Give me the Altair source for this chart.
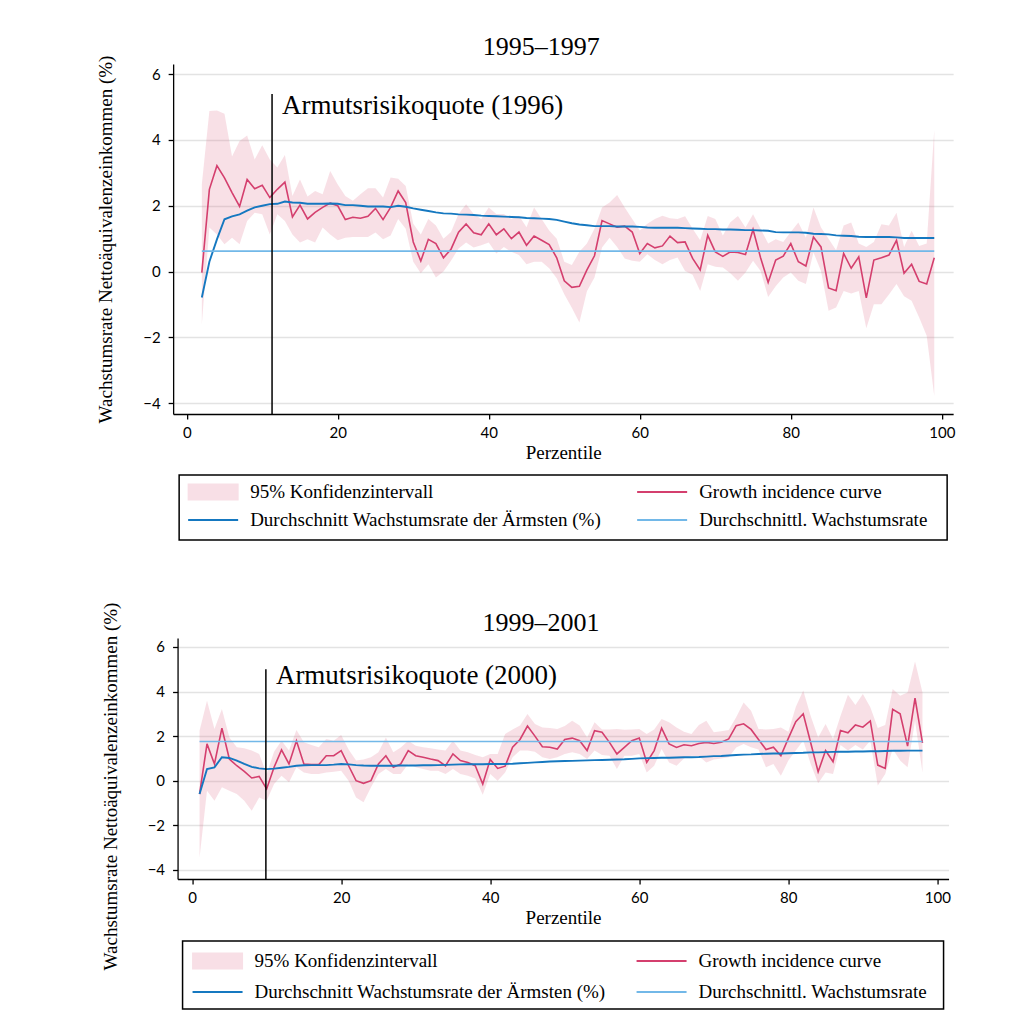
import altair as alt
import pandas as pd

# ---------------- data ----------------
pct_1 = list(range(2, 100))
gic_1 = [-0.03, 2.5, 3.22, 2.85, 2.4, 1.98, 2.8, 2.52, 2.62, 2.25,
         2.5, 2.72, 1.66, 2.02, 1.6, 1.8, 1.95, 2.08, 2.0, 1.58,
         1.65, 1.62, 1.68, 1.92, 1.58, 1.95, 2.45, 2.1, 0.9, 0.32,
         0.98, 0.85, 0.42, 0.68, 1.2, 1.45, 1.18, 1.12, 1.45, 1.12,
         1.3, 1.0, 1.2, 0.8, 1.08, 0.95, 0.82, 0.42, -0.28, -0.48,
         -0.45, 0.05, 0.48, 1.55, 1.45, 1.35, 1.38, 1.2, 0.55, 0.85,
         0.72, 0.78, 1.08, 0.88, 0.9, 0.4, 0.05, 1.1, 0.6, 0.46,
         0.6, 0.58, 0.52, 1.28, 0.42, -0.33, 0.35, 0.47, 0.85, 0.3,
         0.17, 1.05, 0.75, -0.5, -0.58, 0.55, 0.1, 0.45, -0.8, 0.35,
         0.42, 0.5, 0.95, -0.05, 0.22, -0.3, -0.38, 0.42]
hi_1 = [2.65, 4.88, 4.9, 4.8, 3.5, 3.97, 4.14, 3.41, 3.84, 3.41,
        3.16, 3.54, 2.3, 2.8, 2.28, 2.45, 2.35, 3.06, 2.65, 2.3,
        2.15, 2.35, 2.53, 2.53, 2.25, 2.86, 2.82, 2.6, 1.45, 1.13,
        1.6, 1.4, 1.0, 1.2, 1.75, 2.05, 1.75, 1.6, 1.95, 1.75,
        1.75, 1.6, 1.7, 1.35, 1.95, 1.6, 1.25, 1.0, 0.3, 0.2,
        0.6, 0.85, 1.3, 1.95, 2.1, 2.33, 1.95, 1.6, 1.25, 1.45,
        1.6, 1.7, 1.62, 1.6, 1.68, 1.3, 0.95, 1.69, 1.6, 1.1,
        1.5, 1.69, 1.34, 1.74, 1.3, 0.85, 0.98, 0.9, 1.2, 1.49,
        1.03, 1.95, 1.34, 1.0, 0.65, 1.4, 1.49, 0.85, 0.75, 0.9,
        1.44, 1.4, 1.79, 0.75, 1.24, 0.78, 0.85, 4.3]
lo_1 = [-1.6, 1.34, 1.13, 0.83, 1.03, 0.83, 1.54, 1.79, 1.74, 1.13,
        1.74, 1.54, 1.13, 0.88, 0.98, 0.88, 1.34, 1.13, 0.95, 1.03,
        1.05, 1.05, 1.05, 1.19, 0.98, 1.1, 1.6, 1.3, 0.3, -0.05,
        0.22, -0.18, 0.0, 0.33, 0.7, 0.88, 0.73, 0.8, 0.88, 0.55,
        0.75, 0.6, 0.5, 0.22, 0.3, 0.3, 0.1, -0.2, -0.69, -1.1,
        -1.55, -0.6, -0.18, 0.73, 1.03, 0.75, 0.4, 0.33, 0.3, 0.53,
        0.35, 0.22, 0.35, 0.43, 0.02, -0.1, -0.59, 0.22, 0.15, 0.12,
        -0.05, -0.28, -0.03, 0.33, 0.02, -0.77, -0.45, -0.18, -0.03, -0.28,
        -0.38, 0.58, 0.02, -1.19, -1.09, -0.59, -0.67, -0.59, -1.72, -0.99,
        -0.99, -0.7, -0.38, -0.75, -0.89, -1.4, -1.95, -3.78]
avg_1 = [-0.79, 0.3, 0.98, 1.59, 1.68, 1.74, 1.85, 1.95, 2.0, 2.05,
         2.06, 2.13, 2.1, 2.09, 2.06, 2.06, 2.06, 2.07, 2.06, 2.02,
         2.02, 2.0, 1.98, 1.98, 1.98, 1.96, 2.0, 1.97, 1.92, 1.88,
         1.84, 1.8, 1.77, 1.76, 1.74, 1.73, 1.72, 1.7, 1.69, 1.68,
         1.67, 1.66, 1.65, 1.63, 1.62, 1.61, 1.6, 1.57, 1.52, 1.47,
         1.43, 1.41, 1.38, 1.38, 1.38, 1.37, 1.37, 1.37, 1.36, 1.34,
         1.33, 1.33, 1.33, 1.33, 1.32, 1.31, 1.3, 1.29, 1.29, 1.28,
         1.28, 1.27, 1.26, 1.26, 1.25, 1.24, 1.2, 1.19, 1.19, 1.19,
         1.18, 1.15, 1.14, 1.13, 1.1, 1.09, 1.08, 1.06, 1.05, 1.05,
         1.05, 1.05, 1.04, 1.02, 1.02, 1.02, 1.02, 1.02]
mean_1 = 0.62
poverty_pct_1 = 11.3
poverty_top_1 = 5.4

pct_2 = list(range(1, 99))
gic_2 = [-0.6, 1.65, 0.75, 2.36, 0.97, 0.67, 0.42, 0.12, 0.19, -0.37,
         0.6, 1.38, 0.75, 1.79, 0.75, 0.72, 0.72, 1.12, 1.12, 1.35,
         0.67, 0.0, -0.12, 0.0, 0.75, 1.12, 0.6, 0.75, 1.35, 1.12,
         1.05, 0.97, 0.9, 0.67, 1.2, 0.9, 0.82, 0.67, -0.15, 0.95,
         0.55, 0.65, 1.5, 1.85, 2.45, 2.0, 1.52, 1.5, 1.42, 1.85,
         1.91, 1.79, 1.35, 2.24, 2.17, 1.72, 1.2, 1.49, 1.79, 1.91,
         0.82, 1.35, 2.36, 1.65, 1.49, 1.61, 1.57, 1.67, 1.72, 1.67,
         1.72, 1.87, 2.47, 2.55, 2.3, 1.85, 1.4, 1.5, 1.12, 1.9,
         2.65, 3.0, 1.7, 0.4, 1.35, 0.85, 2.25, 2.15, 2.5, 2.4,
         2.68, 0.7, 0.55, 3.2, 3.0, 1.55, 3.7, 1.7]
hi_2 = [2.24, 3.59, 2.32, 3.21, 1.94, 1.5, 1.45, 1.35, 1.2, 0.3,
        1.3, 1.79, 1.35, 2.27, 1.72, 1.6, 1.5, 1.87, 1.79, 2.05,
        1.4, 0.9, 0.95, 1.05, 1.27, 1.94, 1.27, 1.49, 1.79, 1.57,
        1.5, 1.45, 1.4, 1.35, 1.79, 1.35, 1.27, 1.15, 1.05, 1.2,
        1.2, 2.09, 2.3, 2.47, 2.99, 2.54, 2.39, 2.36, 2.32, 2.45,
        2.69, 2.47, 1.94, 2.62, 2.3, 2.3, 2.32, 2.28, 2.3, 2.32,
        2.09, 2.3, 2.77, 2.62, 2.39, 2.2, 2.09, 2.5, 2.69, 2.17,
        2.22, 2.27, 2.84, 3.51, 3.14, 2.32, 2.3, 2.32, 2.39, 2.2,
        3.3, 4.04, 2.9, 1.94, 2.54, 1.87, 2.9, 3.86, 3.4, 3.89,
        3.29, 2.36, 2.5, 4.11, 3.81, 3.96, 5.35, 3.96]
lo_2 = [-3.44, -0.45, -0.9, -0.3, -0.45, -0.6, -0.9, -1.35, -0.75, -0.9,
        -0.15, 0.22, -0.07, 0.6, 0.37, 0.3, 0.3, 0.37, 0.4, 0.45,
        0.0, -0.75, -0.97, -0.3, 0.3, 0.52, 0.3, 0.3, 0.75, 0.6,
        0.52, 0.45, 0.45, 0.3, 0.52, 0.3, 0.22, 0.1, -0.63, 0.3,
        0.0, 0.37, 1.05, 1.35, 1.35, 1.3, 1.05, 0.97, 1.05, 1.2,
        1.27, 1.2, 0.97, 1.35, 1.15, 1.12, 0.52, 1.12, 1.12, 1.2,
        0.37, 0.67, 1.42, 0.82, 0.67, 1.0, 1.12, 1.1, 0.82, 0.95,
        1.0, 1.05, 1.49, 1.65, 1.5, 1.4, 0.6, 0.75, 0.22, 0.9,
        1.35, 1.8, 0.75, -0.12, 0.37, 0.3, 1.6, 1.35, 1.6, 1.4,
        1.8, -0.22, 0.3, 1.42, 0.9, 0.6, 2.69, 0.37]
avg_2 = [-0.6, 0.52, 0.6, 1.05, 1.02, 0.9, 0.75, 0.62, 0.55, 0.52,
         0.54, 0.58, 0.62, 0.67, 0.69, 0.7, 0.7, 0.7, 0.72, 0.75,
         0.73, 0.7, 0.68, 0.67, 0.67, 0.67, 0.67, 0.68, 0.68, 0.68,
         0.69, 0.69, 0.7, 0.71, 0.72, 0.73, 0.74, 0.74, 0.74, 0.75,
         0.75, 0.75, 0.76, 0.78, 0.8, 0.82, 0.84, 0.86, 0.87, 0.88,
         0.89, 0.9, 0.91, 0.92, 0.93, 0.94, 0.95, 0.96, 0.98, 1.0,
         1.01, 1.02, 1.03, 1.03, 1.04, 1.05, 1.05, 1.06, 1.08, 1.1,
         1.11, 1.13, 1.15, 1.17, 1.18, 1.2, 1.21, 1.22, 1.22, 1.23,
         1.24, 1.25, 1.27, 1.27, 1.28, 1.29, 1.3, 1.3, 1.31, 1.31,
         1.32, 1.32, 1.33, 1.34, 1.34, 1.35, 1.35, 1.35]
mean_2 = 1.76
poverty_pct_2 = 9.9
poverty_top_2 = 5.0

titles = ["1995–1997", "1999–2001"]
annotations = ["Armutsrisikoquote (1996)", "Armutsrisikoquote (2000)"]
y_title = "Wachstumsrate Nettoäquivalenzeinkommen (%)"
x_title = "Perzentile"
x_ticks = [0, 20, 40, 60, 80, 100]
y_ticks = [-4, -2, 0, 2, 4, 6]
legend_labels = ["95% Konfidenzintervall", "Growth incidence curve",
                 "Durchschnitt Wachstumsrate der Ärmsten (%)", "Durchschnittl. Wachstumsrate"]
legend_cols = [0, 1, 0, 1]
legend_rows = [0, 0, 1, 1]

# ---------------- style ----------------
BAND = "#e1738f"
BAND_OP = 0.22
SWATCH = "#f8dfe6"
RED = "#d43f6e"
BLUE = "#1578c0"
LBLUE = "#72b8e8"
SERIF = "Liberation Serif"
SANS = "Lato"


def make_panel(pct, gic, lo, hi, avg, mean, pov, pov_top, title, ann, xdom, ydom, w, h,
               title_offset, ann_dy, ytitle_y=None):
    df = pd.DataFrame({"p": pct, "gic": gic, "lo": lo, "hi": hi, "avg": avg})
    xs = alt.Scale(domain=xdom, nice=False, zero=False)
    ys = alt.Scale(domain=ydom, nice=False, zero=False)
    xax = alt.Axis(values=x_ticks, title=x_title, grid=False, format="d",
                   labelPadding=6, titlePadding=3)
    yargs = dict(values=y_ticks, title=y_title, grid=True, format="d",
                 labelPadding=8, titlePadding=27)
    if ytitle_y is not None:
        yargs["titleY"] = ytitle_y
    yax = alt.Axis(**yargs)
    X = lambda f: alt.X(f, type="quantitative", scale=xs, axis=xax)
    Y = lambda f: alt.Y(f, type="quantitative", scale=ys, axis=yax)

    base = alt.Chart(df)
    band = base.mark_area(color=BAND, opacity=BAND_OP).encode(x=X("p"), y=Y("lo"), y2="hi")
    red = base.mark_line(color=RED, strokeWidth=1.6).encode(x=X("p"), y=Y("gic"))
    blue = base.mark_line(color=BLUE, strokeWidth=1.9).encode(x=X("p"), y=Y("avg"))

    mean_df = pd.DataFrame({"p0": [pct[0]], "p1": [pct[-1]], "m": [mean]})
    meanline = alt.Chart(mean_df).mark_rule(color=LBLUE, strokeWidth=1.6).encode(
        x=X("p0"), x2="p1", y=Y("m"))

    pov_df = pd.DataFrame({"p": [pov], "top": [pov_top], "bot": [ydom[0]], "label": [ann]})
    povline = alt.Chart(pov_df).mark_rule(color="black", strokeWidth=1.5).encode(
        x=X("p"), y=Y("top"), y2="bot")
    povtext = alt.Chart(pov_df).mark_text(align="left", baseline="top", dx=10, dy=ann_dy,
                                         font=SERIF, fontSize=27, color="black").encode(
        x=X("p"), y=Y("top"), text="label:N")

    return alt.layer(band, red, blue, meanline, povline, povtext).properties(
        width=w, height=h,
        title=alt.TitleParams(title, font=SERIF, fontSize=26, fontWeight="normal",
                              anchor="middle", dx=-22, offset=title_offset,
                              frame="group", color="black"))


def make_legend(w, h, sym_x, row_y):
    ldf = pd.DataFrame({"label": legend_labels, "col": legend_cols, "row": legend_rows})
    xs = alt.Scale(domain=[0, 1], range=list(sym_x))
    ys = alt.Scale(domain=[0, 1], range=list(row_y))
    enc = dict(x=alt.X("col:Q", scale=xs, axis=None), y=alt.Y("row:Q", scale=ys, axis=None))
    base = alt.Chart(ldf)
    swatch = base.transform_filter(alt.datum.label == legend_labels[0]).mark_point(
        shape="M-1,-0.33H1V0.33H-1Z", filled=True, size=2601, color=SWATCH, opacity=1,
        strokeWidth=0).encode(**enc)
    lines = base.transform_filter(alt.datum.label != legend_labels[0]).mark_point(
        shape="stroke", filled=False, size=2500, strokeWidth=2, opacity=1).encode(
        color=alt.Color("label:N", scale=alt.Scale(domain=legend_labels[1:], range=[RED, BLUE, LBLUE]),
                        legend=None), **enc)
    texts = base.mark_text(align="left", baseline="middle", dx=37, font=SERIF, fontSize=19,
                           color="black").encode(text="label:N", **enc)
    return alt.layer(swatch, lines, texts).properties(
        width=w, height=h, view=alt.ViewBackground(stroke="black", strokeWidth=1.5))


p1 = make_panel(pct_1, gic_1, lo_1, hi_1, avg_1, mean_1, poverty_pct_1, poverty_top_1,
                titles[0], annotations[0], [-1.8, 101.5], [-4.33, 6.31], 780, 350,
                title_offset=-5, ann_dy=-1)
l1 = make_legend(768, 65, (34, 483), (17, 45))
p2 = make_panel(pct_2, gic_2, lo_2, hi_2, avg_2, mean_2, poverty_pct_2, poverty_top_2,
                titles[1], annotations[1], [-1.95, 101.5], [-4.41, 6.4], 771, 241,
                title_offset=-34, ann_dy=-6, ytitle_y=148)
l2 = make_legend(761, 68, (35, 479), (20, 51))

top = alt.vconcat(p1, l1, spacing=61, bounds="flush", center=True)
bottom = alt.vconcat(p2, l2, spacing=62, bounds="flush", center=True)
chart = alt.vconcat(top, bottom, spacing=61, center=True).properties(
    padding={"left": 88, "top": 26, "right": 5, "bottom": 5}
).configure_view(stroke=None).configure_axis(
    labelFont=SANS, labelFontSize=15, labelColor="black",
    titleFont=SERIF, titleFontSize=19, titleFontWeight="normal", titleColor="black",
    domainColor="black", domainWidth=1.3, tickColor="black", tickWidth=1.3, tickSize=5,
    gridColor="#e3e3e3", gridWidth=1.5
)

chart.save("out.html", embed_options={"renderer": "svg", "actions": False})
